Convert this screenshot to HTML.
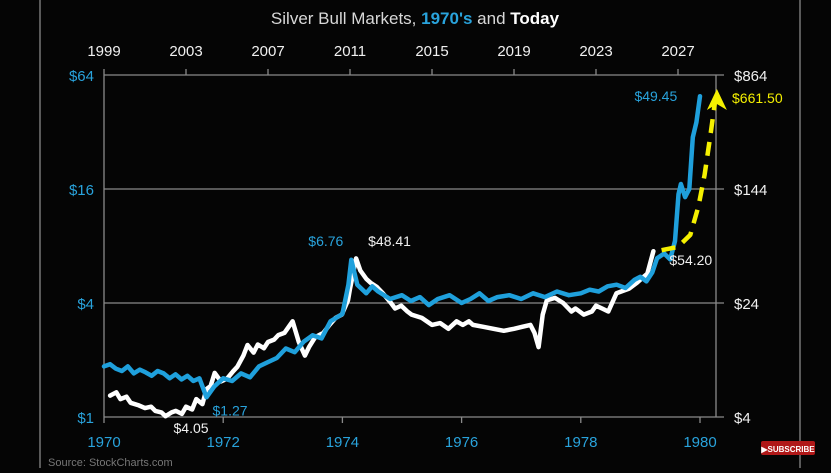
<!DOCTYPE html>
<html><head><meta charset="utf-8"><style>
html,body{margin:0;padding:0;background:#050505;}
body{width:831px;height:468px;overflow:hidden;font-family:"Liberation Sans",sans-serif;}
svg text{font-family:"Liberation Sans",sans-serif;}
</style></head><body>
<svg id="c" width="831" height="468" viewBox="0 0 831 468" xmlns="http://www.w3.org/2000/svg">
<rect x="0" y="0" width="831" height="468" fill="#050505"/>
<line x1="40" y1="0" x2="40" y2="468" stroke="#777" stroke-width="1.5"/>
<line x1="800" y1="0" x2="800" y2="468" stroke="#777" stroke-width="1.5"/>
<text x="415" y="24" text-anchor="middle" font-size="17" fill="#d8d8d8">Silver Bull Markets, <tspan fill="#29a3dc" font-weight="bold">1970's</tspan> and <tspan fill="#fff" font-weight="bold">Today</tspan></text>
<text x="48" y="466" font-size="11" fill="#777">Source: StockCharts.com</text>
<g><rect x="761" y="441" width="54" height="14" rx="2" fill="#b01818"/><text x="788" y="452" text-anchor="middle" font-size="8" font-weight="bold" fill="#fff">▶SUBSCRIBE</text></g>
<g id="plot"></g>
</svg>
<script>
// Data
const leftTicks=[1,4,16,64];
const leftTickLabels=["$1","$4","$16","$64"];
const rightTicks=[4,24,144,864];
const rightTickLabels=["$4","$24","$144","$864"];
const bottomYears=[1970,1972,1974,1976,1978,1980];
const topYears=[1999,2003,2007,2011,2015,2019,2023,2027];
const blueYears=[1970.0,1970.1,1970.2,1970.3,1970.4,1970.5,1970.6,1970.7,1970.8,1970.9,1971.0,1971.1,1971.2,1971.3,1971.4,1971.5,1971.6,1971.72,1971.85,1972.0,1972.15,1972.3,1972.45,1972.6,1972.75,1972.9,1973.05,1973.2,1973.35,1973.5,1973.65,1973.8,1974.0,1974.1,1974.15,1974.25,1974.4,1974.5,1974.6,1974.8,1975.0,1975.15,1975.3,1975.45,1975.6,1975.8,1976.0,1976.15,1976.3,1976.45,1976.6,1976.8,1977.0,1977.2,1977.4,1977.6,1977.8,1978.0,1978.15,1978.3,1978.45,1978.6,1978.75,1978.9,1979.0,1979.1,1979.2,1979.28,1979.4,1979.5,1979.58,1979.64,1979.68,1979.75,1979.82,1979.88,1979.94,1980.0];
const blueValues=[1.85,1.9,1.8,1.75,1.85,1.7,1.78,1.72,1.65,1.75,1.7,1.6,1.68,1.58,1.65,1.55,1.6,1.27,1.45,1.6,1.55,1.7,1.62,1.85,1.95,2.05,2.3,2.2,2.5,2.7,2.6,3.2,3.5,5.0,6.76,5.0,4.5,4.9,4.6,4.2,4.4,4.1,4.3,3.9,4.2,4.4,4.0,4.2,4.5,4.1,4.3,4.4,4.2,4.5,4.3,4.6,4.4,4.5,4.7,4.6,4.9,5.0,4.8,5.3,5.5,5.2,5.8,6.9,7.3,6.8,8.5,15,17,14.5,16,30,36,49.45];
const whiteYears=[1999.3,1999.6,1999.8,2000.1,2000.3,2000.7,2001.0,2001.3,2001.5,2001.8,2002.0,2002.3,2002.5,2002.8,2003.0,2003.3,2003.5,2003.8,2004.0,2004.2,2004.4,2004.7,2005.0,2005.3,2005.5,2005.8,2006.0,2006.3,2006.5,2006.8,2007.0,2007.3,2007.5,2007.8,2008.2,2008.5,2008.8,2009.0,2009.3,2009.7,2010.0,2010.3,2010.6,2010.9,2011.0,2011.3,2011.5,2011.8,2012.0,2012.3,2012.6,2013.0,2013.2,2013.5,2013.8,2014.0,2014.5,2015.0,2015.4,2015.8,2016.2,2016.5,2016.8,2017.0,2017.5,2018.0,2018.5,2019.0,2019.4,2019.8,2020.0,2020.2,2020.4,2020.6,2021.0,2021.4,2021.8,2022.0,2022.4,2022.8,2023.0,2023.3,2023.6,2024.0,2024.3,2024.6,2025.0,2025.3,2025.5,2025.8];
const whiteValues=[5.6,5.9,5.3,5.5,5.0,4.8,4.6,4.7,4.4,4.3,4.05,4.3,4.4,4.2,4.7,4.5,5.3,4.9,6.2,6.5,8.0,7.0,7.3,8.2,8.8,10.5,12.4,11,12.5,11.8,13,13.5,14.5,15,18,13,10.5,12,14,15,17,19,20,25,30,48.41,40,35,33,31,28,24,22,23,21,20,19,17,17.5,16,18,17,18,17,16.5,16,15.5,16,16.5,17,15,12,20,25,26,24,21,22,20,21,23,22,21,28,29,30,33,36,38,54.2];
const projYears=[2026.2,2027.0,2027.6,2028.0,2028.3,2028.6,2028.8];
const projValues=[55,58,70,110,180,350,560];

const NS="http://www.w3.org/2000/svg";
const g=document.getElementById('plot');
const X0=104,X1=716,YT=75,YB=417;
const xb=yr=>X0+(yr-1970)*(700-104)/10;
const xt=yr=>X0+(yr-1999)*(678-104)/28;
const yl=v=>YB-(Math.log(v)/Math.log(64))*(YB-YT);
const yr_=v=>YB-(Math.log(v/4)/Math.log(216))*(YB-YT);
function mk(tag,attrs){const e=document.createElementNS(NS,tag);for(const k in attrs)e.setAttribute(k,attrs[k]);g.appendChild(e);return e;}
function txt(x,y,s,size,fill,anchor){const e=mk('text',{x:x,y:y,'font-size':size,fill:fill,'text-anchor':anchor||'middle'});e.textContent=s;return e;}

leftTicks.forEach((v,i)=>{
  const y=yl(v);
  const l=mk('line',{x1:X0,y1:y,x2:X1+8,y2:y,stroke:'#8a8a8a','stroke-width':1.3});
  
  
  const t=txt(X0-10,y+6,leftTickLabels[i],15,'#29a3dc','end');
  
  
});
rightTicks.forEach((v,i)=>{
  const t=txt(734,yr_(v)+6,rightTickLabels[i],15,'#f0f0f0','start');
  
  
});
let a=mk('line',{x1:X0,y1:YT,x2:X0,y2:YB,stroke:'#8a8a8a','stroke-width':1.3});


a=mk('line',{x1:X1,y1:YT,x2:X1,y2:YB,stroke:'#8a8a8a','stroke-width':1.3});


bottomYears.forEach(yr=>{
  const x=xb(yr);
  const l=mk('line',{x1:x,y1:YB,x2:x,y2:YB+6,stroke:'#8a8a8a','stroke-width':1.3});
  
  
  const t=txt(x,YB+30,String(yr),15,'#29a3dc');
  
  
});
topYears.forEach(yr=>{
  const x=xt(yr);
  const l=mk('line',{x1:x,y1:YT,x2:x,y2:YT-6,stroke:'#8a8a8a','stroke-width':1.3});
  
  
  const t=txt(x,56,String(yr),15,'#f0f0f0');
  
  
});

function poly(xs,ys,xf,yf,color,name,extra){
  const d=xs.map((v,i)=>(i?'L':'M')+xf(v).toFixed(1)+','+yf(ys[i]).toFixed(1)).join('');
  const p=mk('path',Object.assign({d:d,fill:'none',stroke:color,'stroke-width':4.5,'stroke-linejoin':'round','stroke-linecap':'round'},extra||{}));
  
  
  return p;
}
poly(whiteYears,whiteValues,xt,yr_,'#ffffff','today-silver-line');
poly(blueYears,blueValues,xb,yl,'#1fa0dc','seventies-silver-line');
poly(projYears,projValues,xt,yr_,'#f5f000','projection-dashed-line',{'stroke-dasharray':'14 9','stroke-linecap':'butt'});
const ax=xt(projYears[projYears.length-1])+2,ay=yr_(661.5);
const ah=mk('polygon',{points:`${ax},${ay-3} ${ax-10},${ay+18} ${ax},${ay+12} ${ax+10},${ay+18}`,fill:'#f5f000'});



function ann(x,y,s,color,anchor,name){const t=txt(x,y,s,14,color,anchor);}
ann(xb(1979.82)-12,yl(49.45)+5,'$49.45','#29a3dc','end','label-blue-peak');
ann(732,103,'$661.50','#f5f000','start','label-projection');
ann(xb(1974.15)-8,yl(6.76)-14,'$6.76','#29a3dc','end','label-blue-1974');
ann(xt(2011.3)+12,yl(6.76)-14,'$48.41','#f0f0f0','start','label-white-2011');
ann(xt(2025.8)+16,yr_(54.2)+14,'$54.20','#f0f0f0','start','label-white-current');
ann(xb(1971.72)+6,yl(1.27)+18,'$1.27','#29a3dc','start','label-blue-low');
ann(xt(2002)+8,yr_(4.05)+17,'$4.05','#f0f0f0','start','label-white-low');
</script>
</body></html>
